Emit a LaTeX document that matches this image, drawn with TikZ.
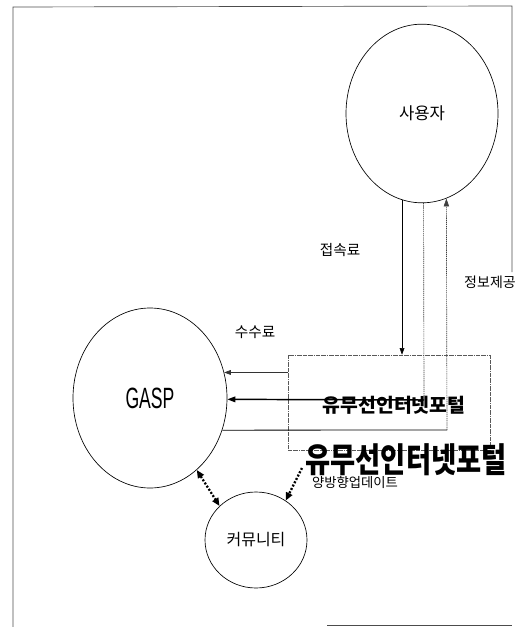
\documentclass[tikz,border=0pt]{standalone}
\usepackage{fontspec}
\setmainfont{Liberation Sans}
\newfontfamily\kr{Noto Sans CJK KR}
\usetikzlibrary{shapes.geometric,arrows.meta}
\begin{document}
\begin{tikzpicture}[x=0.75pt,y=-0.75pt,
  bub/.style={draw,ellipse,line width=0.5pt,inner sep=0pt},
  krtext/.style={font=\kr\fontsize{#1}{#1}\selectfont,inner sep=0pt},
  krbold/.style={font=\kr\bfseries\fontsize{#1}{#1}\selectfont,inner sep=0pt},
  frame/.style={draw=black!70,line width=0.5pt},
  boxline/.style={draw=black!65,line width=0.45pt,dash pattern=on 3pt off 0.6pt on 0.6pt off 0.6pt},
  thinarrow/.style={line width=0.45pt,-{Triangle[length=5pt,width=3.6pt]}},
  plainline/.style={line width=0.6pt},
  thickarrow/.style={line width=1.1pt,-{Triangle[length=6pt,width=4.2pt]}},
  dotline/.style={draw=black!75,line width=0.5pt,dash pattern=on 1pt off 0.6pt},
  dotarrow/.style={draw=black!75,line width=0.5pt,dash pattern=on 1pt off 0.6pt,-{Triangle[length=6pt,width=4pt]}},
  heavydots/.style={line width=1.7pt,dash pattern=on 1.5pt off 1.3pt},
  headtip/.style={-{Triangle[length=6pt,width=5pt]}},
  bothtips/.style={{Triangle[length=6pt,width=5pt]}-{Triangle[length=6pt,width=5pt]}}
]
\useasboundingbox (0,0) rectangle (517,627);

% outer frame
\draw[frame] (13,627) -- (13,7) -- (512,6) -- (512,272);
\draw[frame] (327,625) -- (512,625);

% nodes
\node[bub,minimum width=114pt,minimum height=134pt,krtext=12.5] (user) at (422,113.5) {사용자};
\node[bub,minimum width=115.5pt,minimum height=135pt,font=\fontsize{22}{22}\selectfont] (gasp) at (150,398) {\scalebox{0.6}[1]{GASP}};
\node[bub,minimum width=76.5pt,minimum height=72pt,krtext=12] (comm) at (256,540) {커뮤니티};
\node[boxline,minimum width=151.5pt,minimum height=71.25pt,inner sep=0pt] (portal) at (389,402.5) {};

% junction coordinates
\coordinate (j1) at (424,400);
\coordinate (j2) at (447,430);
\coordinate (s1) at (302,468);

% connectors
\draw[thinarrow] (user.257.6) -- (user.257.6 |- portal.north);
\draw[dotline] (user.271.3) -- (j1);
\draw[thickarrow] (j1) -- (gasp.-1.5);
\draw[thinarrow,draw=black!80] (gasp.19.4 -| portal.west) -- (gasp.19.4);
\draw[plainline] (gasp.-24) -- (j2);
\draw[dotarrow] (j2) -- (user.286.5);
\draw[heavydots,bothtips] (gasp.-57) -- (comm.137);
\draw[heavydots,headtip] (s1) -- (comm.53.6);

% labels
\node[krtext=11] (l1) at (340,250) {접속료};
\node[krtext=10.5] (l2) at (490,282) {정보제공};
\node[krtext=11] (l3) at (255,332) {수수료};
\node[krbold=14.5] (l4) at (394,405) {유무선인터넷포털};
\node[krbold=20.5] (l5) at (406,460) {\scalebox{1}[1.25]{유무선인터넷포털}};
\node[krtext=10] (l6) at (355,482) {양방향업데이트};
\end{tikzpicture}
\end{document}
